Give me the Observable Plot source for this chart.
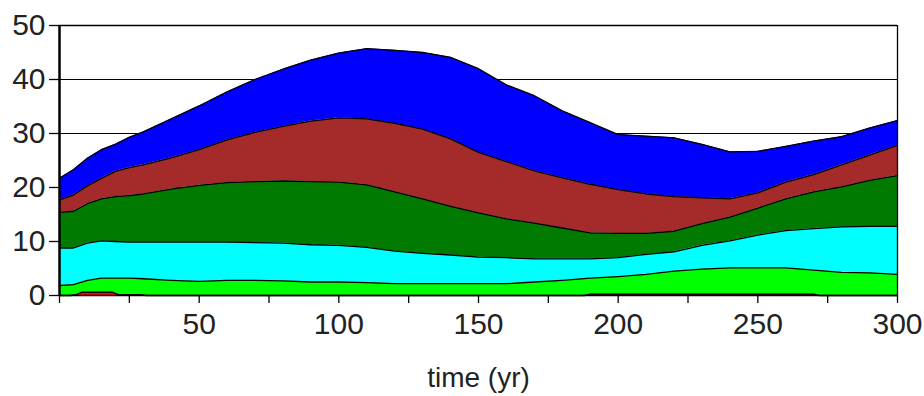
<!DOCTYPE html>
<html><head><meta charset="utf-8">
<script src="https://cdn.jsdelivr.net/npm/d3@7"></script>
<script src="https://cdn.jsdelivr.net/npm/@observablehq/plot@0.6"></script>
<style>body{margin:0;background:#fff} svg{display:block}</style>
</head><body><div id="chart"></div>
<script>
const time      = [0, 5, 10, 15, 20, 25, 30, 40, 50, 60, 70, 80, 90, 100, 110, 120, 130, 140, 150, 160, 170, 180, 190, 200, 210, 220, 230, 240, 250, 260, 270, 280, 290, 300];
const limeTop   = [1.85, 2.0, 2.8, 3.2, 3.2, 3.2, 3.1, 2.8, 2.6, 2.8, 2.8, 2.7, 2.5, 2.5, 2.4, 2.2, 2.2, 2.2, 2.2, 2.2, 2.5, 2.8, 3.2, 3.5, 3.9, 4.5, 4.9, 5.1, 5.1, 5.1, 4.7, 4.3, 4.2, 3.9];
const cyanTop   = [8.8, 8.8, 9.7, 10.1, 10.0, 9.9, 9.9, 9.9, 9.9, 9.9, 9.8, 9.7, 9.4, 9.3, 8.9, 8.2, 7.8, 7.5, 7.1, 7.0, 6.8, 6.8, 6.8, 7.0, 7.6, 8.1, 9.3, 10.1, 11.2, 12.0, 12.4, 12.7, 12.8, 12.8];
const greenTop  = [15.4, 15.6, 17.0, 17.9, 18.3, 18.5, 18.8, 19.7, 20.4, 20.9, 21.1, 21.2, 21.1, 21.0, 20.5, 19.2, 17.9, 16.5, 15.3, 14.2, 13.4, 12.5, 11.6, 11.5, 11.5, 11.9, 13.3, 14.5, 16.2, 17.9, 19.2, 20.1, 21.3, 22.2];
const brownTop  = [17.7, 18.6, 20.3, 21.7, 23.0, 23.7, 24.2, 25.5, 27.0, 28.8, 30.2, 31.3, 32.3, 32.9, 32.7, 31.9, 30.8, 29.0, 26.5, 24.8, 23.1, 21.8, 20.6, 19.6, 18.8, 18.3, 18.1, 17.9, 19.0, 21.0, 22.4, 24.2, 26.0, 27.8];
const blueTop   = [21.7, 23.3, 25.4, 27.0, 28.0, 29.3, 30.3, 32.7, 35.1, 37.7, 40.0, 41.9, 43.6, 44.9, 45.7, 45.4, 45.0, 44.1, 42.0, 39.0, 37.0, 34.2, 32.0, 29.8, 29.5, 29.2, 28.0, 26.6, 26.7, 27.6, 28.6, 29.4, 31.0, 32.4];
const redTime   = [0, 4, 6, 8, 19, 21, 29, 31, 188, 190, 270, 272, 300];
const redTop    = [0, 0, 0.15, 0.6, 0.6, 0.15, 0.15, 0, 0, 0.25, 0.25, 0, 0];
const xTicks    = [0, 25, 50, 75, 100, 125, 150, 175, 200, 225, 250, 275, 300];
const xLabels   = [50, 100, 150, 200, 250, 300];
const yTicks    = [0, 10, 20, 30, 40, 50];
const gridY     = [10, 20, 30, 40];
const xTitle    = "time (yr)";

const layerDefs = [
  {top: limeTop,  bottom: null,     fill: "#00ff00"},
  {top: cyanTop,  bottom: limeTop,  fill: "#00ffff"},
  {top: greenTop, bottom: cyanTop,  fill: "#007a00"},
  {top: brownTop, bottom: greenTop, fill: "#a52a2a"},
  {top: blueTop,  bottom: brownTop, fill: "#0000ff"}
];
const rows = l => time.map((t, i) => ({t, y1: l.bottom ? l.bottom[i] : 0, y2: l.top[i]}));
const redRows = redTime.map((t, i) => ({t, y1: 0, y2: redTop[i]}));

const font = "'Liberation Sans Narrow', 'Liberation Sans', Arial, sans-serif";
const marks = [
  Plot.ruleY(gridY, {stroke: "#000", strokeWidth: 1.2}),
  ...layerDefs.map(l => Plot.areaY(rows(l), {x: "t", y1: "y1", y2: "y2", fill: l.fill})),
  Plot.areaY(redRows, {x: "t", y1: "y1", y2: "y2", fill: "#ff0000"}),
  ...layerDefs.map(l => Plot.lineY(rows(l), {x: "t", y: "y2", stroke: "#000", strokeWidth: 1.3})),
  Plot.lineY(redRows, {x: "t", y: "y2", stroke: "#000", strokeWidth: 1.3}),
  Plot.ruleY([50], {stroke: "#000", strokeWidth: 1.3}),
  Plot.ruleX([300], {stroke: "#000", strokeWidth: 1.3}),
  Plot.ruleY([0], {stroke: "#000", strokeWidth: 1.3}),
  Plot.ruleX([0], {stroke: "#000", strokeWidth: 2.5}),
  Plot.axisY({ticks: yTicks, tickSize: 10, tickPadding: 4, stroke: "#000", strokeWidth: 1.3, fill: "#222", fontSize: 30, label: null}),
  Plot.axisX({ticks: xTicks, tickSize: 8, tickPadding: 9, stroke: "#000", strokeWidth: 1.3, fill: "#222", fontSize: 30, label: null,
              tickFormat: d => xLabels.includes(d) ? String(d) : ""}),
  Plot.text([xTitle], {frameAnchor: "bottom", dy: 91, lineAnchor: "bottom", fontSize: 28, fill: "#222"})
];

const chart = Plot.plot({
  width: 924, height: 396,
  marginLeft: 59, marginRight: 27, marginTop: 25, marginBottom: 101,
  x: {domain: [0, 300]},
  y: {domain: [0, 50]},
  style: {fontFamily: font, background: "#fff", overflow: "visible"},
  marks
});
document.getElementById("chart").appendChild(chart);
</script>
</body></html>
